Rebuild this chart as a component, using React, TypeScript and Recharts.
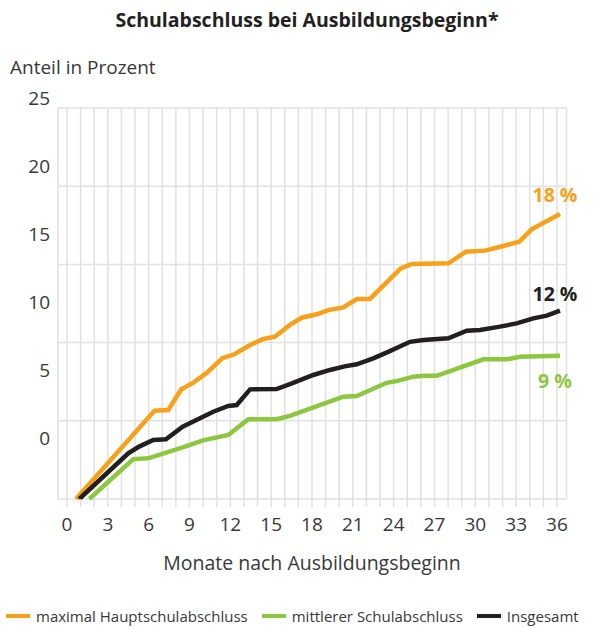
import React from 'react';
import { LineChart, Line, XAxis, YAxis, CartesianGrid } from 'recharts';

// Months after start of training (x) and share in percent (y)
const HAUPT_MONTHS = [0.66, 6.43, 7.44, 8.38, 9.28, 10.26, 11.41, 12.34, 13.45, 14.42, 15.28, 16.38, 17.24, 18.35, 19.2, 20.3, 21.3, 22.26, 24.52, 25.33, 28.02, 29.32, 30.71, 32.06, 33.23, 34.14, 36.22];
const HAUPT_VALUES = [0, 5.65, 5.69, 7.0, 7.44, 8.06, 9.0, 9.27, 9.85, 10.23, 10.38, 11.13, 11.59, 11.81, 12.08, 12.25, 12.79, 12.79, 14.75, 15.03, 15.07, 15.81, 15.88, 16.18, 16.45, 17.24, 18.22];

const MITTEL_MONTHS = [1.64, 4.87, 5.97, 8.5, 10.0, 11.85, 13.32, 15.4, 16.38, 20.3, 21.29, 23.49, 24.22, 25.45, 26.18, 27.17, 30.59, 32.31, 33.29, 36.22];
const MITTEL_VALUES = [0, 2.55, 2.6, 3.3, 3.75, 4.09, 5.1, 5.1, 5.31, 6.54, 6.58, 7.43, 7.54, 7.82, 7.88, 7.88, 8.93, 8.93, 9.1, 9.16];

const GESAMT_MONTHS = [0.9, 4.5, 5.3, 6.34, 7.27, 8.5, 9.77, 10.75, 11.85, 12.47, 13.45, 15.4, 16.38, 18.1, 19.32, 20.4, 21.29, 22.5, 23.6, 25.2, 26.18, 28.02, 29.37, 30.35, 31.81, 33.04, 34.26, 35.25, 36.22];
const GESAMT_VALUES = [0, 2.92, 3.35, 3.77, 3.82, 4.62, 5.16, 5.58, 5.95, 6.01, 7.01, 7.03, 7.35, 7.93, 8.25, 8.48, 8.61, 8.99, 9.41, 10.05, 10.16, 10.28, 10.76, 10.81, 11.02, 11.23, 11.55, 11.72, 12.04];

const SERIES_NAMES = ['maximal Hauptschulabschluss', 'mittlerer Schulabschluss', 'Insgesamt'];
const END_LABELS = ['18 %', '9 %', '12 %'];
const SERIES_COLORS = ['#F7A11A', '#8DC63F', '#231F20'];

const X_TICKS = [0, 1, 2, 3, 4, 5, 6, 7, 8, 9, 10, 11, 12, 13, 14, 15, 16, 17, 18, 19, 20, 21, 22, 23, 24, 25, 26, 27, 28, 29, 30, 31, 32, 33, 34, 35, 36];
const X_LABELED = [0, 3, 6, 9, 12, 15, 18, 21, 24, 27, 30, 33, 36];
const Y_TICKS = [0, 5, 10, 15, 20, 25];

const TITLE = 'Schulabschluss bei Ausbildungsbeginn*';
const Y_TITLE = 'Anteil in Prozent';
const X_TITLE = 'Monate nach Ausbildungsbeginn';

const FONT = '"Open Sans", "Noto Sans", sans-serif';
const TEXT = '#383838';
const GRID = '#e1e1e1';

const toData = (months: number[], values: number[]) => months.map((m, i) => ({ m, v: values[i] }));

const SERIES = [
  { name: SERIES_NAMES[0], data: toData(HAUPT_MONTHS, HAUPT_VALUES), color: SERIES_COLORS[0], label: END_LABELS[0], dy: -12 },
  { name: SERIES_NAMES[1], data: toData(MITTEL_MONTHS, MITTEL_VALUES), color: SERIES_COLORS[1], label: END_LABELS[1], dy: 32 },
  { name: SERIES_NAMES[2], data: toData(GESAMT_MONTHS, GESAMT_VALUES), color: SERIES_COLORS[2], label: END_LABELS[2], dy: -10 },
];

const PLOT_TOP = 108;

const YTick = (props: any) => {
  const { x, y, payload } = props;
  const ny = PLOT_TOP - 10 + (y - PLOT_TOP) * (340 / 391);
  return (
    <text x={x} y={ny} dy="0.35em" textAnchor="end" fontSize={19} fill={TEXT} fontFamily={FONT}>
      {payload.value}
    </text>
  );
};

const makeEndLabel = (text: string, color: string, dy: number, last: number) => (props: any) => {
  if (props.index !== last) return <g key={props.index} />;
  return (
    <text key={props.index} x={props.x - 5} y={props.y + dy} textAnchor="middle" fontSize={19.5} fontWeight={700} fill={color} fontFamily={FONT}>
      {text}
    </text>
  );
};

export default function App() {
  return (
    <div style={{ position: 'absolute', left: 0, top: 0, width: 598, height: 628, background: '#fff', fontFamily: FONT, overflow: 'hidden' }}>
      <div style={{ position: 'absolute', left: 8, width: 598, top: 6, textAlign: 'center', fontSize: 19.5, fontWeight: 700, color: '#222' }}>
        {TITLE}
      </div>
      <div style={{ position: 'absolute', left: 10, top: 54, fontSize: 19, color: TEXT }}>{Y_TITLE}</div>
      <LineChart width={598} height={628} margin={{ top: PLOT_TOP, left: 8, right: 31.5, bottom: 99 }}>
        <CartesianGrid stroke={GRID} strokeWidth={1.5} />
        <XAxis
          type="number"
          dataKey="m"
          domain={[-0.66, 36.7]}
          ticks={X_TICKS}
          interval={0}
          allowDataOverflow
          height={30}
          tickSize={8}
          tickMargin={11}
          axisLine={false}
          tickLine={{ stroke: GRID, strokeWidth: 1.5 }}
          tickFormatter={(v: number) => (X_LABELED.includes(v) ? String(v) : '')}
          tick={{ fill: TEXT, fontSize: 19, fontFamily: FONT }}
        />
        <YAxis type="number" domain={[0, 25]} ticks={Y_TICKS} width={50} axisLine={false} tickLine={false} tick={<YTick />} />
        {SERIES.map((s) => (
          <Line
            key={s.name}
            data={s.data}
            dataKey="v"
            name={s.name}
            type="linear"
            stroke={s.color}
            strokeWidth={4.5}
            dot={false}
            activeDot={false}
            isAnimationActive={false}
            label={makeEndLabel(s.label, s.color, s.dy, s.data.length - 1)}
          />
        ))}
      </LineChart>
      <div style={{ position: 'absolute', left: 0, width: 624, top: 549, textAlign: 'center', fontSize: 19.5, color: TEXT }}>{X_TITLE}</div>
      <div style={{ position: 'absolute', left: 6, top: 606, display: 'flex', alignItems: 'center', fontSize: 15, color: TEXT, whiteSpace: 'nowrap' }}>
        {SERIES_NAMES.map((n, i) => (
          <div key={n} style={{ display: 'flex', alignItems: 'center', marginRight: i < 2 ? 14 : 0 }}>
            <div style={{ width: 24, height: 4, background: SERIES_COLORS[i], marginRight: 6 }} />
            <span>{n}</span>
          </div>
        ))}
      </div>
    </div>
  );
}
